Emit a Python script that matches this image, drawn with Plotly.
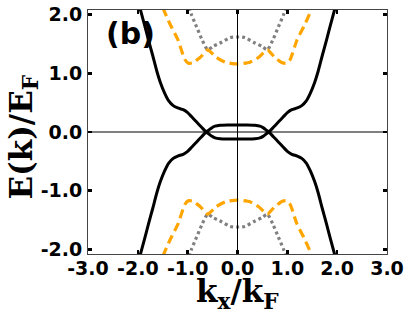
import plotly.graph_objects as go

# ---- data ----
K_BLACK = [-1.96, -1.87, -1.79, -1.70, -1.62, -1.55, -1.46, -1.38, -1.29, -1.20, -1.09, -1.00,
           -0.92, -0.82, -0.72, -0.63, -0.58, -0.52, -0.45, -0.35, -0.20, 0.00,
           0.20, 0.35, 0.45, 0.52, 0.58, 0.63, 0.72, 0.82, 0.92, 1.00, 1.09, 1.20,
           1.29, 1.38, 1.46, 1.55, 1.62, 1.70, 1.79, 1.87, 1.96]
E_BLACK_UP = [2.12, 1.84, 1.58, 1.30, 1.04, 0.85, 0.66, 0.53, 0.45, 0.41, 0.38, 0.33,
              0.26, 0.17, 0.08, 0.00, -0.03, -0.07, -0.10, -0.115, -0.12, -0.12,
              -0.12, -0.115, -0.10, -0.07, -0.03, 0.00, 0.08, 0.17, 0.26, 0.33, 0.38, 0.41,
              0.45, 0.53, 0.66, 0.85, 1.04, 1.30, 1.58, 1.84, 2.12]
E_BLACK_DN = [-2.12, -1.84, -1.58, -1.30, -1.04, -0.85, -0.66, -0.53, -0.45, -0.41, -0.38, -0.33,
              -0.26, -0.17, -0.08, 0.00, 0.03, 0.07, 0.10, 0.115, 0.12, 0.12,
              0.12, 0.115, 0.10, 0.07, 0.03, 0.00, -0.08, -0.17, -0.26, -0.33, -0.38, -0.41,
              -0.45, -0.53, -0.66, -0.85, -1.04, -1.30, -1.58, -1.84, -2.12]

K_ORANGE = [-1.50, -1.36, -1.19, -1.06, -0.98, -0.90, -0.75, -0.60, -0.42, -0.25, 0.00,
            0.25, 0.42, 0.60, 0.75, 0.90, 0.98, 1.06, 1.19, 1.36, 1.50]
E_ORANGE_UP = [2.12, 1.85, 1.56, 1.24, 1.17, 1.18, 1.27, 1.40, 1.27, 1.19, 1.16,
               1.19, 1.27, 1.40, 1.27, 1.18, 1.17, 1.24, 1.56, 1.85, 2.12]
E_ORANGE_DN = [-2.12, -1.85, -1.56, -1.24, -1.17, -1.18, -1.27, -1.40, -1.27, -1.19, -1.16,
               -1.19, -1.27, -1.40, -1.27, -1.18, -1.17, -1.24, -1.56, -1.85, -2.12]

K_GRAY = [-0.97, -0.92, -0.82, -0.72, -0.60, -0.49, -0.32, -0.15, 0.00,
          0.15, 0.32, 0.49, 0.60, 0.72, 0.82, 0.92, 0.97]
E_GRAY_UP = [2.12, 1.99, 1.79, 1.59, 1.40, 1.46, 1.53, 1.61, 1.62,
             1.61, 1.53, 1.46, 1.40, 1.59, 1.79, 1.99, 2.12]
E_GRAY_DN = [-2.12, -1.99, -1.79, -1.59, -1.40, -1.46, -1.53, -1.61, -1.62,
             -1.61, -1.53, -1.46, -1.40, -1.59, -1.79, -1.99, -2.12]

X_TICKS = [-3.0, -2.0, -1.0, 0.0, 1.0, 2.0, 3.0]
X_TICK_LABELS = ["-3.0", "-2.0", "-1.0", "0.0", "1.0", "2.0", "3.0"]
Y_TICKS = [-2.0, -1.0, 0.0, 1.0, 2.0]
Y_TICK_LABELS = ["-2.0", "-1.0", "0.0", "1.0", "2.0"]

fig = go.Figure()

for e in (E_GRAY_UP, E_GRAY_DN):
    fig.add_trace(go.Scatter(x=K_GRAY, y=e, mode="lines",
                             line=dict(color="#808080", width=3.2, dash="3px,3px", shape="spline", smoothing=0.5),
                             hoverinfo="skip", showlegend=False))
for e in (E_ORANGE_UP, E_ORANGE_DN):
    fig.add_trace(go.Scatter(x=K_ORANGE, y=e, mode="lines",
                             line=dict(color="#FFA500", width=3.2, dash="9px,5px", shape="spline", smoothing=0.5),
                             hoverinfo="skip", showlegend=False))
for e in (E_BLACK_UP, E_BLACK_DN):
    fig.add_trace(go.Scatter(x=K_BLACK, y=e, mode="lines",
                             line=dict(color="black", width=3, shape="spline", smoothing=0.6),
                             hoverinfo="skip", showlegend=False))

# reference lines at x=0 and y=0
fig.add_shape(type="line", xref="x", yref="paper", x0=0, x1=0, y0=0, y1=1,
              line=dict(color="black", width=1), layer="above")
fig.add_shape(type="line", xref="paper", yref="y", x0=0, x1=1, y0=0, y1=0,
              line=dict(color="black", width=1), layer="above")

tickfont = dict(family="DejaVu Sans", size=19, color="black", weight="bold")
axis_common = dict(showgrid=False, zeroline=False, showline=True, linecolor="#444444", linewidth=1,
                   mirror="ticks", ticks="inside", ticklen=4, tickwidth=2.5, tickcolor="black",
                   tickfont=tickfont, automargin=False, tickangle=0)

fig.update_xaxes(range=[-3.0, 3.0], tickmode="array", tickvals=X_TICKS, ticktext=X_TICK_LABELS,
                 ticklabelstandoff=-3, **axis_common)
fig.update_yaxes(range=[-2.08, 2.08], tickmode="array", tickvals=Y_TICKS, ticktext=Y_TICK_LABELS,
                 ticklabelstandoff=1, **axis_common)

titlefont = dict(family="DejaVu Serif", size=31, color="black", weight="bold")
fig.add_annotation(text="k<sub>x</sub>/k<sub>F</sub>", xref="paper", yref="paper",
                   x=0.5, y=-0.07, xanchor="center", yanchor="top", showarrow=False, font=titlefont)
fig.add_annotation(text="E(k)/E<sub>F</sub>", xref="paper", yref="paper",
                   x=-0.215, y=0.48, xanchor="center", yanchor="middle", textangle=-90,
                   showarrow=False, font=titlefont)
fig.add_annotation(text="(b)", xref="paper", yref="paper", x=0.055, y=0.985,
                   xanchor="left", yanchor="top", showarrow=False,
                   font=dict(family="DejaVu Sans", size=30, color="black", weight="bold"))

fig.update_layout(template="none", width=407, height=317, margin=dict(l=88, r=20, t=10, b=63),
                  paper_bgcolor="white", plot_bgcolor="white")

fig.write_html("out.html", config={"displayModeBar": False, "staticPlot": True},
               post_script="document.body.style.margin='0';document.body.style.overflow='hidden';")
